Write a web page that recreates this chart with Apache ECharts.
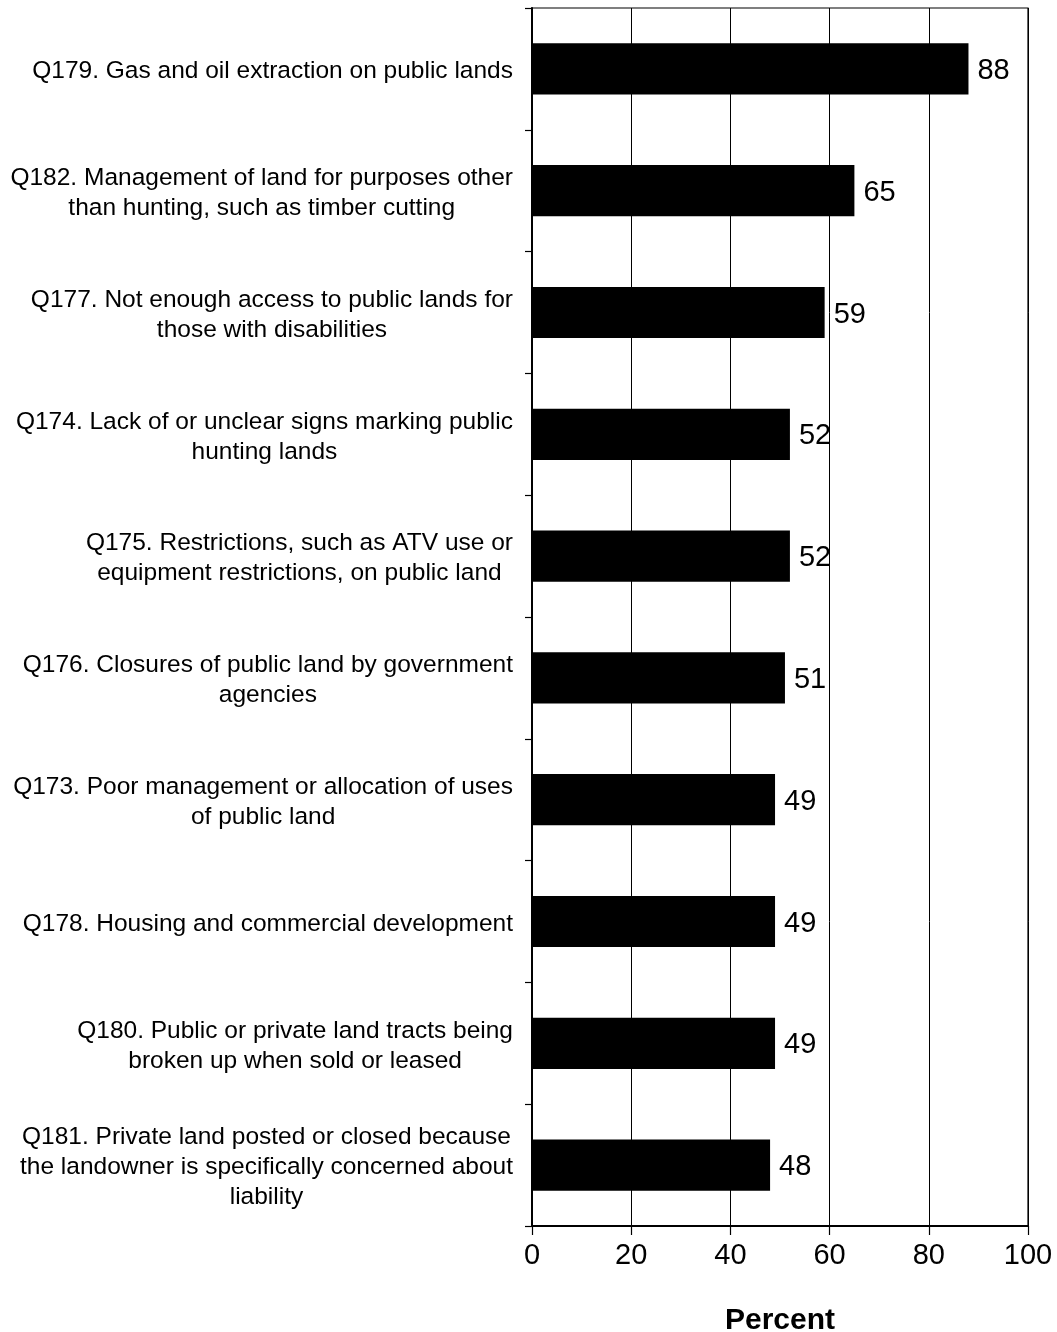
<!DOCTYPE html>
<html>
<head>
<meta charset="utf-8">
<script src="https://cdn.jsdelivr.net/npm/echarts@6/dist/echarts.min.js"></script>
<style>html,body{margin:0;padding:0;background:#fff;}#c{width:1057px;height:1332px;}</style>
</head>
<body>
<div id="c"></div>
<script>
const categories = [
  "Q179. Gas and oil extraction on public lands",
  "Q182. Management of land for purposes other\nthan hunting, such as timber cutting",
  "Q177. Not enough access to public lands for\nthose with disabilities",
  "Q174. Lack of or unclear signs marking public\nhunting lands",
  "Q175. Restrictions, such as ATV use or\nequipment restrictions, on public land",
  "Q176. Closures of public land by government\nagencies",
  "Q173. Poor management or allocation of uses\nof public land",
  "Q178. Housing and commercial development",
  "Q180. Public or private land tracts being\nbroken up when sold or leased",
  "Q181. Private land posted or closed because\nthe landowner is specifically concerned about\nliability"
];
const values = [88, 65, 59, 52, 52, 51, 49, 49, 49, 48];
const xTicks = [0, 20, 40, 60, 80, 100];
const axisTitle = "Percent";

const FONT = '"Liberation Sans", Arial, sans-serif';
const chart = echarts.init(document.getElementById('c'), null, {renderer: 'canvas'});
chart.setOption({
  animation: false,
  backgroundColor: '#fff',
  textStyle: {fontFamily: FONT, color: '#000'},
  grid: {left: 532, right: 29, top: 8, bottom: 106, show: true, borderColor: '#000', borderWidth: 1.2,
    containLabel: false, outerBoundsMode: 'none'},
  xAxis: {
    type: 'value', min: xTicks[0], max: xTicks[xTicks.length - 1], interval: 20,
    axisLine: {show: true, lineStyle: {color: '#000', width: 2}},
    axisTick: {show: true, length: 9, lineStyle: {color: '#000', width: 1.2}},
    splitLine: {show: true, lineStyle: {color: '#000', width: 1}},
    axisLabel: {fontSize: 29, color: '#000', fontFamily: FONT, margin: 15,
      formatter: v => xTicks.includes(v) ? String(v) : ''},
    name: axisTitle, nameLocation: 'middle', nameGap: 80,
    nameTextStyle: {fontSize: 30, fontWeight: 'bold', color: '#000', fontFamily: FONT}
  },
  yAxis: {
    type: 'category', data: categories, inverse: true,
    axisLine: {show: true, lineStyle: {color: '#000', width: 2}},
    axisTick: {show: true, length: 7, alignWithLabel: false, lineStyle: {color: '#000', width: 1.2}},
    splitLine: {show: false},
    axisLabel: {
      interval: 0, margin: 19, color: '#000', fontFamily: FONT, fontSize: 24.5, lineHeight: 30,
      padding: [5, 0, 0, 0],
      formatter: v => '{c|' + v + '}',
      rich: {c: {align: 'center', fontSize: 24.5, lineHeight: 30, fontFamily: FONT, color: '#000'}}
    }
  },
  series: [{
    type: 'bar', data: values, barWidth: '42%',
    itemStyle: {color: '#000'},
    label: {show: true, position: 'right', distance: 9, offset: [0, 2], fontSize: 29, color: '#000', fontFamily: FONT},
    z: 2
  }]
});
</script>
</body>
</html>
